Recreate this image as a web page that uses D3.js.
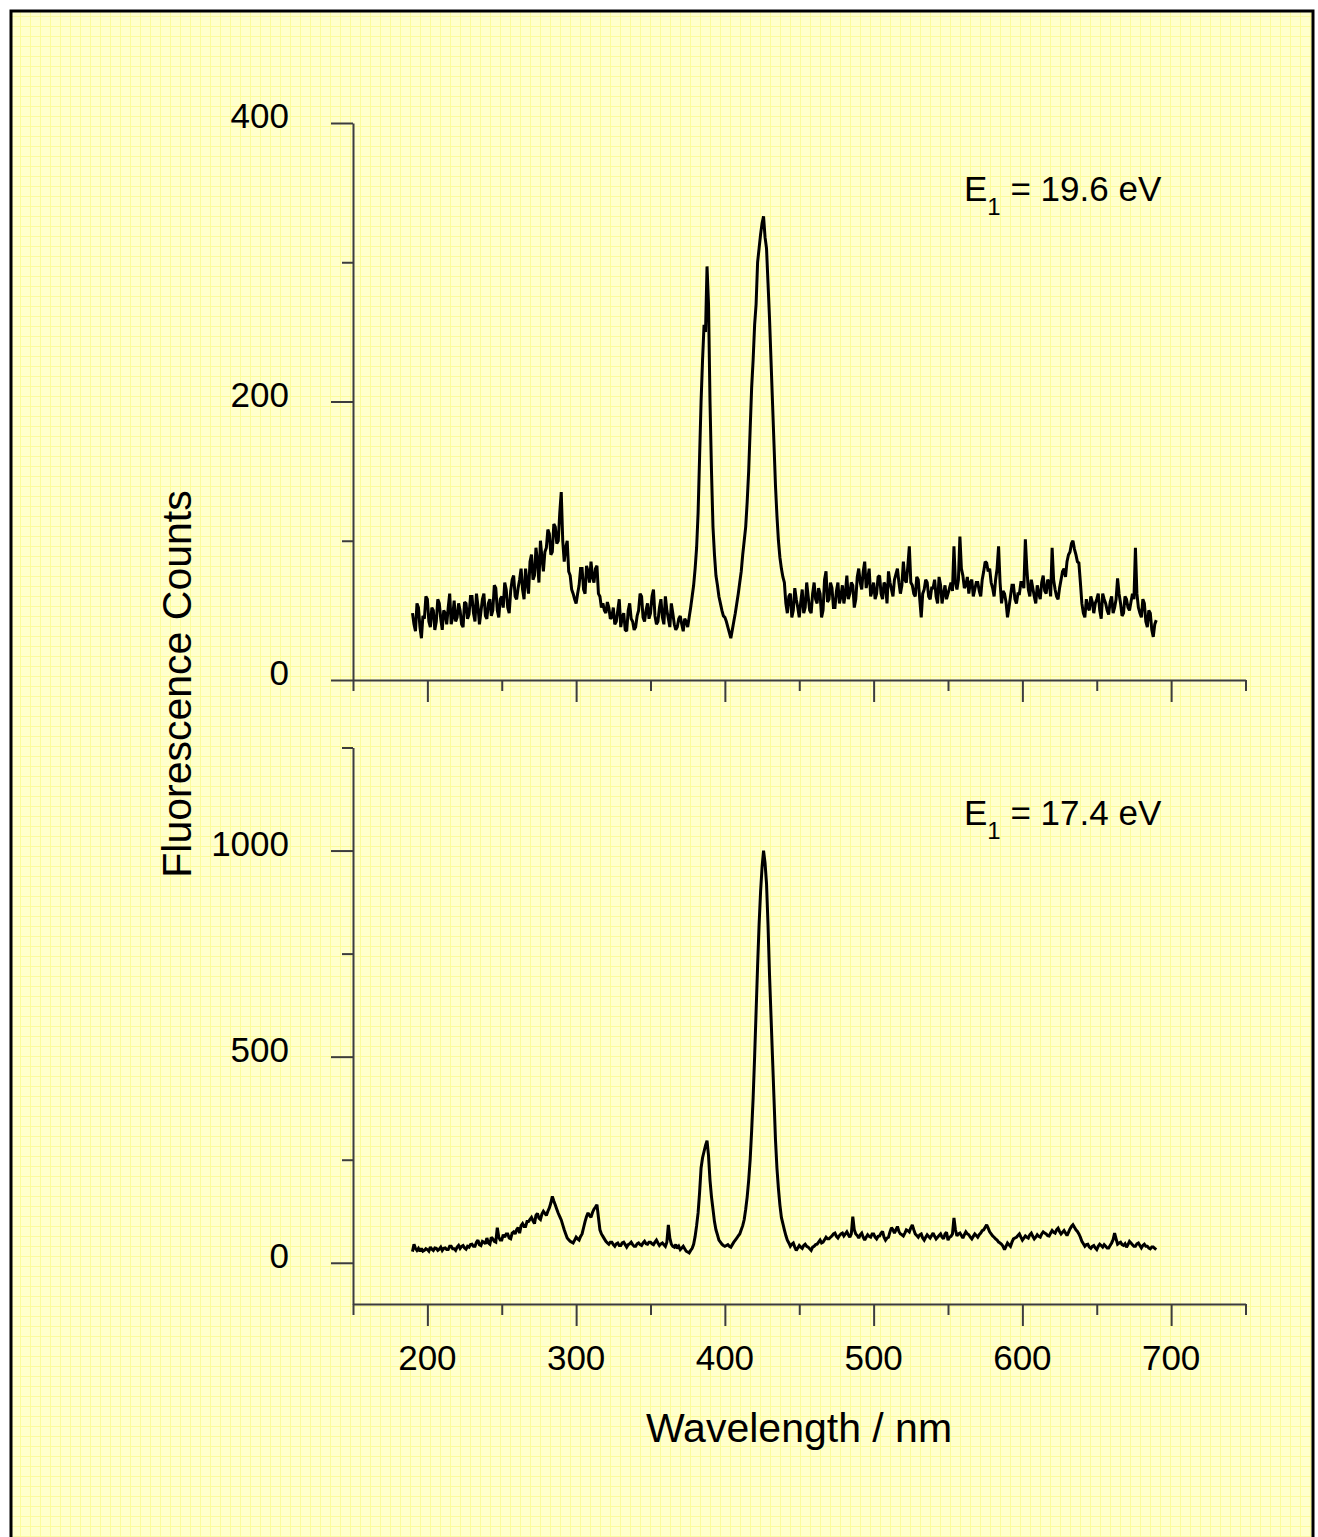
<!DOCTYPE html>
<html>
<head>
<meta charset="utf-8">
<script src="https://cdn.jsdelivr.net/npm/d3@7"></script>
<style>
  html, body { margin: 0; padding: 0; background: #ffffff; }
  svg { display: block; }
  text { font-family: "Liberation Sans", Arial, sans-serif; fill: #000; }
</style>
</head>
<body>
<svg id="chart" width="1318" height="1537"></svg>
<script>
// Sampling grid of the spectrometer (nm)
const wavelengths = d3.range(190, 691, 1);

// Fluorescence counts, E1 = 19.6 eV (one value per nm, 190–690 nm; one row per 10 nm)
const countsHigh = [
  48, 40, 35, 55, 52, 38, 30, 46, 44, 60,
  58, 42, 38, 52, 50, 36, 42, 58, 55, 44,
  36, 50, 48, 40, 52, 62, 40, 45, 57, 42,
  45, 55, 50, 40, 38, 56, 55, 44, 47, 60,
  60, 48, 42, 62, 53, 40, 49, 58, 62, 46,
  44, 55, 58, 46, 50, 68, 66, 50, 45, 58,
  60, 52, 70, 65, 52, 48, 64, 72, 75, 60,
  58, 66, 72, 80, 65, 58, 80, 70, 62, 85,
  90, 72, 75, 95, 85, 70, 100, 88, 78, 92,
  95, 108, 105, 90, 92, 112, 110, 98, 100, 120,
  135, 100, 85, 95, 100, 78, 75, 65, 62, 58,
  55, 62, 68, 80, 80, 65, 62, 82, 78, 70,
  85, 74, 70, 80, 82, 62, 60, 52, 55, 50,
  48, 56, 52, 44, 45, 52, 40, 42, 50, 58,
  38, 45, 48, 36, 35, 50, 55, 44, 42, 36,
  38, 46, 50, 62, 60, 45, 42, 50, 55, 44,
  48, 60, 65, 46, 40, 42, 52, 58, 45, 40,
  60, 50, 44, 38, 55, 48, 40, 36, 38, 44,
  46, 40, 35, 44, 42, 38, 45, 52, 60, 68,
  80, 95, 120, 160, 200, 230, 255, 250, 297, 270,
  200, 150, 110, 90, 75, 68, 60, 55, 50, 46,
  45, 42, 38, 34, 30, 36, 42, 48, 55, 62,
  70, 78, 90, 100, 110, 128, 150, 180, 210, 230,
  255, 270, 300, 310, 320, 328, 333, 318, 310, 285,
  260, 230, 200, 170, 140, 118, 100, 88, 80, 74,
  70, 55, 48, 60, 62, 45, 50, 66, 58, 52,
  45, 56, 65, 48, 52, 70, 60, 50, 48, 62,
  70, 58, 55, 66, 62, 45, 50, 72, 78, 56,
  58, 70, 66, 52, 52, 64, 70, 55, 60, 68,
  55, 62, 75, 58, 62, 70, 68, 52, 58, 74,
  80, 70, 65, 78, 85, 66, 72, 80, 60, 64,
  70, 58, 62, 74, 75, 62, 58, 70, 68, 55,
  78, 70, 65, 60, 72, 76, 80, 70, 62, 68,
  85, 72, 70, 82, 96, 70, 68, 62, 60, 74,
  72, 58, 45, 62, 65, 72, 70, 60, 58, 66,
  66, 72, 60, 55, 74, 68, 55, 62, 68, 58,
  62, 66, 70, 64, 96, 70, 65, 72, 103, 80,
  75, 66, 68, 74, 62, 70, 72, 60, 65, 70,
  70, 64, 60, 72, 78, 85, 84, 78, 80, 70,
  66, 60, 72, 80, 96, 70, 55, 64, 62, 56,
  45, 52, 60, 68, 68, 58, 55, 62, 62, 70,
  70, 66, 101, 80, 65, 60, 72, 66, 60, 55,
  68, 62, 58, 70, 75, 64, 62, 72, 70, 60,
  95, 72, 65, 60, 58, 66, 72, 78, 80, 74,
  85, 90, 92, 98, 100, 94, 90, 85, 84, 70,
  55, 48, 45, 58, 52, 50, 60, 56, 48, 55,
  58, 62, 50, 44, 62, 58, 55, 50, 47, 56,
  60, 48, 52, 58, 73, 62, 55, 46, 48, 60,
  58, 52, 50, 56, 62, 58, 95, 62, 52, 48,
  45, 58, 55, 42, 38, 50, 48, 36, 31, 40,
  43
];

// Fluorescence counts, E1 = 17.4 eV (one value per nm, 190–690 nm; one row per 10 nm)
const countsLow = [
  27, 45, 35, 30, 35, 28, 35, 28, 30, 34,
  32, 28, 38, 33, 30, 36, 35, 30, 33, 38,
  30, 35, 36, 32, 32, 40, 40, 34, 34, 30,
  38, 42, 35, 40, 42, 36, 33, 40, 38, 44,
  45, 40, 40, 50, 55, 44, 42, 52, 50, 46,
  60, 48, 45, 62, 58, 52, 50, 85, 62, 55,
  55, 68, 62, 70, 70, 60, 58, 72, 75, 70,
  80, 85, 72, 90, 95, 88, 88, 100, 100, 105,
  110, 102, 95, 115, 120, 108, 105, 118, 125, 120,
  115, 125, 133, 145, 161, 150, 140, 130, 120, 112,
  104, 92, 80, 70, 60, 56, 52, 50, 48, 55,
  62, 58, 55, 64, 70, 85, 100, 112, 121, 115,
  110, 122, 130, 135, 141, 110, 80, 70, 64, 58,
  52, 48, 45, 50, 50, 44, 40, 46, 48, 42,
  42, 48, 50, 44, 38, 44, 46, 50, 44, 40,
  40, 46, 48, 44, 42, 48, 52, 46, 45, 50,
  50, 46, 44, 50, 55, 48, 42, 46, 48, 44,
  40, 50, 92, 60, 45, 40, 38, 44, 35, 40,
  32, 36, 40, 34, 28, 26, 24, 30, 35, 45,
  64, 90, 121, 170, 230, 255, 270, 285, 296, 260,
  200, 160, 130, 100, 80, 68, 55, 50, 45, 42,
  40, 42, 44, 40, 38, 44, 50, 55, 60, 65,
  70, 80, 90, 105, 130, 160, 200, 250, 320, 400,
  500, 610, 720, 820, 900, 960, 1000, 970, 920, 820,
  700, 600, 500, 400, 300, 230, 180, 140, 110, 95,
  80, 66, 55, 48, 40, 45, 48, 38, 30, 36,
  42, 38, 35, 42, 45, 40, 38, 34, 30, 38,
  40, 44, 45, 50, 55, 48, 50, 56, 62, 58,
  58, 62, 65, 70, 72, 64, 60, 66, 70, 72,
  65, 70, 75, 68, 62, 70, 112, 80, 70, 66,
  60, 68, 72, 62, 55, 62, 68, 64, 62, 70,
  70, 62, 58, 64, 65, 72, 76, 62, 55, 60,
  62, 75, 85, 80, 72, 80, 88, 76, 70, 68,
  65, 72, 80, 78, 75, 85, 92, 80, 70, 66,
  62, 68, 70, 60, 55, 62, 68, 64, 60, 66,
  72, 64, 58, 62, 66, 70, 62, 58, 70, 74,
  55, 62, 64, 70, 109, 80, 65, 70, 72, 66,
  60, 68, 75, 70, 68, 62, 58, 64, 70, 66,
  62, 68, 72, 78, 80, 86, 92, 84, 75, 70,
  65, 62, 58, 55, 50, 48, 45, 40, 32, 40,
  48, 44, 40, 50, 58, 60, 62, 66, 70, 62,
  55, 60, 65, 62, 60, 68, 72, 64, 58, 62,
  68, 64, 62, 70, 75, 72, 70, 66, 65, 72,
  78, 74, 72, 80, 84, 76, 70, 74, 78, 72,
  66, 74, 82, 88, 92, 86, 80, 76, 70, 62,
  52, 46, 40, 44, 45, 38, 35, 40, 42, 36,
  32, 40, 45, 42, 38, 44, 40, 36, 36, 42,
  48, 56, 72, 58, 45, 48, 50, 44, 42, 46,
  38, 44, 52, 48, 44, 40, 40, 46, 48, 42,
  36, 42, 45, 40, 40, 36, 34, 38, 38, 35,
  32
];

// Tick values
const xMajorTicks = [200, 300, 400, 500, 600, 700];
const xMinorTicks = [150, 250, 350, 450, 550, 650, 750];
const yHighMajor = [0, 200, 400];
const yHighMinor = [100, 300];
const yLowMajor = [0, 500, 1000];
const yLowMinor = [250, 750, 1250];

const panelLabels = [
  { sub: "1", rest: " = 19.6 eV" },
  { sub: "1", rest: " = 17.4 eV" }
];

const svg = d3.select("#chart");
const W = 1318, H = 1537;

// Graph-paper background inside the frame
const defs = svg.append("defs");
const pat = defs.append("pattern")
  .attr("id", "paper")
  .attr("patternUnits", "userSpaceOnUse")
  .attr("width", 10).attr("height", 10)
  .attr("x", 0).attr("y", 6);
pat.append("rect").attr("width", 10).attr("height", 10).attr("fill", "#ffffcc");
pat.append("path")
  .attr("d", "M0,0.5H10M0.5,0V10")
  .attr("stroke", "#fbfb9c").attr("stroke-width", 1).attr("fill", "none");

svg.append("rect")
  .attr("x", 11).attr("y", 11)
  .attr("width", 1302).attr("height", H)
  .attr("fill", "url(#paper)")
  .attr("stroke", "#000").attr("stroke-width", 3);

// Scales
const x = d3.scaleLinear().domain([150, 750]).range([353, 1245.5]);
const yHigh = d3.scaleLinear().domain([0, 400]).range([680, 123]);
const yLow = d3.scaleLinear().domain([-100, 1250]).range([1304, 747.5]);

const axisColor = "#3c3c3c";

function styleAxis(g) {
  g.selectAll("path, line").attr("stroke", axisColor).attr("stroke-width", 2);
  g.selectAll("text").remove();
}

function drawPanel(yScale, majors, minors, xAxisY, showXLabels) {
  // vertical axis
  const ga = svg.append("g").attr("transform", `translate(${x(150)},0)`);
  ga.call(d3.axisLeft(yScale).tickValues(majors).tickSize(22).tickSizeOuter(0)).call(styleAxis);
  const gm = svg.append("g").attr("transform", `translate(${x(150)},0)`);
  gm.call(d3.axisLeft(yScale).tickValues(minors).tickSize(11).tickSizeOuter(0)).call(styleAxis);
  gm.select(".domain").remove();

  // tick labels
  svg.append("g").selectAll("text")
    .data(majors)
    .join("text")
    .attr("x", 289)
    .attr("y", d => yScale(d) + 5)
    .attr("text-anchor", "end")
    .attr("font-size", 35)
    .text(d => d);

  // horizontal axis
  const gx = svg.append("g").attr("transform", `translate(0,${xAxisY})`);
  gx.call(d3.axisBottom(x).tickValues(xMajorTicks).tickSize(22).tickSizeOuter(0)).call(styleAxis);
  const gxm = svg.append("g").attr("transform", `translate(0,${xAxisY})`);
  gxm.call(d3.axisBottom(x).tickValues(xMinorTicks).tickSize(11).tickSizeOuter(0)).call(styleAxis);
  gxm.select(".domain").remove();

  if (showXLabels) {
    svg.append("g").selectAll("text")
      .data(xMajorTicks)
      .join("text")
      .attr("x", d => x(d))
      .attr("y", 1370)
      .attr("text-anchor", "middle")
      .attr("font-size", 35)
      .text(d => d);
  }
}

drawPanel(yHigh, yHighMajor, yHighMinor, yHigh(0), false);
drawPanel(yLow, yLowMajor, yLowMinor, yLow(-100), true);

// Spectra
function drawSpectrum(values, yScale) {
  const line = d3.line()
    .x((d, i) => x(wavelengths[i]))
    .y(d => yScale(d));
  svg.append("path")
    .datum(values)
    .attr("d", line)
    .attr("fill", "none")
    .attr("stroke", "#000")
    .attr("stroke-width", 3)
    .attr("stroke-linejoin", "miter")
    .attr("stroke-miterlimit", 2);
}
drawSpectrum(countsHigh, yHigh);
drawSpectrum(countsLow, yLow);

// Panel annotations
[201, 825].forEach((by, k) => {
  const t = svg.append("text")
    .attr("x", 964).attr("y", by)
    .attr("font-size", 35);
  t.append("tspan").text("E");
  t.append("tspan").attr("font-size", 24).attr("dy", 14).text(panelLabels[k].sub);
  t.append("tspan").attr("dy", -14).text(panelLabels[k].rest);
});

// Axis titles
svg.append("text")
  .attr("x", 799).attr("y", 1442)
  .attr("text-anchor", "middle")
  .attr("font-size", 41)
  .text("Wavelength / nm");

svg.append("text")
  .attr("transform", "translate(191,684) rotate(-90)")
  .attr("text-anchor", "middle")
  .attr("font-size", 41)
  .text("Fluorescence Counts");
</script>
</body>
</html>
